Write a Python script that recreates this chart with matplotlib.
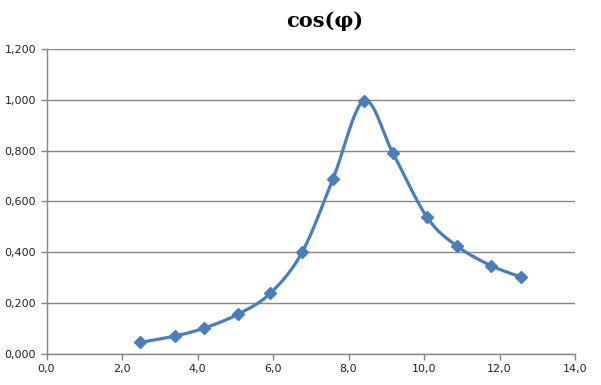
import numpy as np
import matplotlib
matplotlib.use('Agg')
import matplotlib.pyplot as plt
from matplotlib.ticker import FuncFormatter, MultipleLocator

# values
x_vals = [2.49, 3.41, 4.18, 5.08, 5.93, 6.77, 7.59, 8.41, 9.18, 10.08, 10.87, 11.77, 12.57]
y_vals = [0.046, 0.071, 0.102, 0.157, 0.239, 0.400, 0.689, 0.996, 0.789, 0.538, 0.425, 0.348, 0.303]
title = 'cos(φ)'

BLUE = '#4A7EBB'
GRID = '#868686'


def smooth(xs, ys, n=30):
    # Excel-like smoothed line: cubic bezier with catmull-rom control points
    px = np.array(xs)
    py = np.array(ys)
    m = len(px)
    outx, outy = [], []
    t = np.linspace(0, 1, n)
    for i in range(m - 1):
        i0 = max(i - 1, 0)
        i3 = min(i + 2, m - 1)
        p0 = np.array([px[i], py[i]])
        p3 = np.array([px[i + 1], py[i + 1]])
        c1 = p0 + (p3 - np.array([px[i0], py[i0]])) / 6.0
        c2 = p3 - (np.array([px[i3], py[i3]]) - p0) / 6.0
        b = ((1 - t) ** 3)[:, None] * p0 + (3 * (1 - t) ** 2 * t)[:, None] * c1 \
            + (3 * (1 - t) * t ** 2)[:, None] * c2 + (t ** 3)[:, None] * p3
        outx.extend(b[:, 0])
        outy.extend(b[:, 1])
    return outx, outy


fig = plt.figure(figsize=(6.01, 3.85), dpi=100)
ax = fig.add_axes([46.5 / 601, 31 / 385, (575 - 46.5) / 601, (354 - 49) / 385])

sx, sy = smooth(x_vals, y_vals)
ax.plot(sx, sy, color=BLUE, lw=2.3, solid_capstyle='round', zorder=3)
ax.plot(x_vals, y_vals, linestyle='none', marker='D', markersize=6.5,
        color=BLUE, markeredgecolor=BLUE, zorder=4)

ax.set_xlim(0, 14)
ax.set_ylim(0, 1.2)
ax.xaxis.set_major_locator(MultipleLocator(2))
ax.yaxis.set_major_locator(MultipleLocator(0.2))
ax.xaxis.set_major_formatter(FuncFormatter(lambda v, p: ('%.1f' % v).replace('.', ',')))
ax.yaxis.set_major_formatter(FuncFormatter(lambda v, p: ('%.3f' % v).replace('.', ',')))

ax.grid(axis='y', color=GRID, lw=1)
ax.set_axisbelow(True)
for s in ['top', 'right']:
    ax.spines[s].set_visible(False)
for s in ['left', 'bottom']:
    ax.spines[s].set_color(GRID)
    ax.spines[s].set_linewidth(1)
ax.tick_params(colors=GRID, labelcolor='#222222', labelsize=8, length=4, width=1)

fig.text(325 / 601, 1 - 21 / 385, title, ha='center', va='center',
         fontsize=15, fontweight='bold', family='DejaVu Serif')

fig.savefig('out.png', dpi=100)
